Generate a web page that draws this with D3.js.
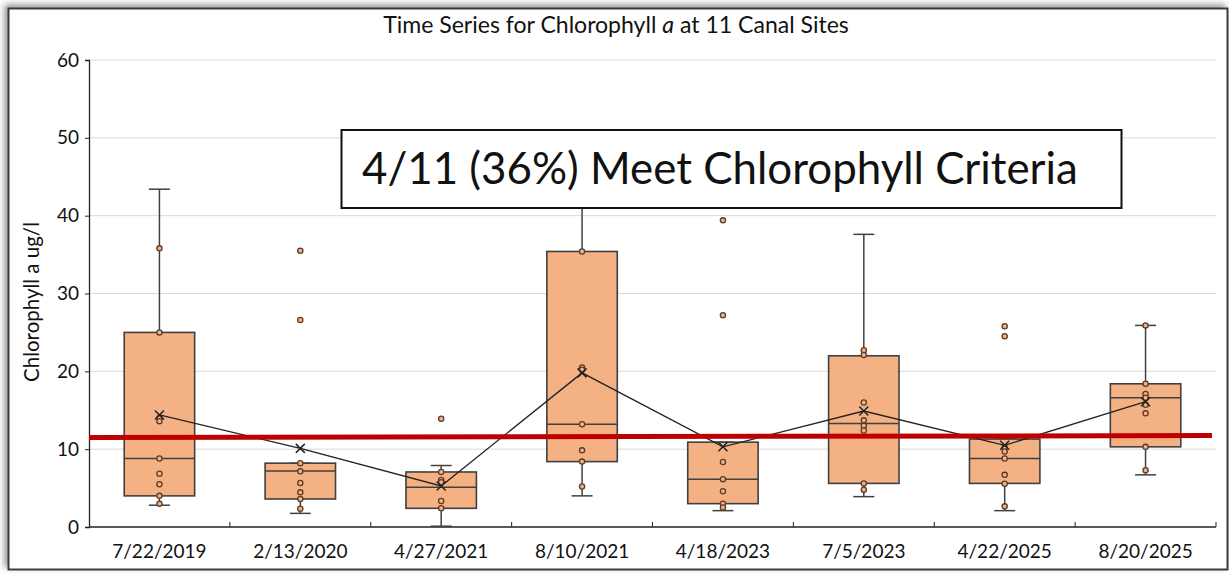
<!DOCTYPE html>
<html>
<head>
<meta charset="utf-8">
<script src="https://cdn.jsdelivr.net/npm/d3@7"></script>
<style>
  body { margin: 0; background: #fff; }
  text { font-family: Lato, "Open Sans", sans-serif; fill: #111; }
</style>
</head>
<body>
<div id="chart"></div>
<script>
// sampling dates (one box per survey)
const dates = ["7/22/2019", "2/13/2020", "4/27/2021", "8/10/2021", "4/18/2023", "7/5/2023", "4/22/2025", "8/20/2025"];

// box statistics (ug/l)
const whiskerLow = [2.8, 1.75, 0.1, 4.0, 2.1, 3.9, 2.1, 6.7];
const q1Vals     = [4.0, 3.6, 2.4, 8.4, 3.0, 5.6, 5.6, 10.3];
const medVals    = [8.8, 7.2, 5.1, 13.2, 6.15, 13.3, 8.8, 16.6];
const q3Vals     = [25.0, 8.2, 7.07, 35.4, 10.9, 22.0, 11.3, 18.4];
const whiskerHigh = [43.4, 8.2, 7.9, 47.0, 10.9, 37.6, 11.3, 25.9];
const meanVals   = [14.4, 10.1, 5.27, 19.8, 10.3, 14.9, 10.5, 16.1];

// individual site values drawn as dots
const sitePoints = [
  [35.8, 25.0, 14.0, 13.6, 8.8, 6.85, 5.5, 4.0, 3.0],
  [35.5, 26.6, 8.2, 7.15, 5.65, 4.45, 3.6, 2.35],
  [13.9, 7.07, 6.04, 5.74, 3.34, 2.4],
  [35.4, 20.5, 20.2, 13.2, 9.85, 8.4, 5.2],
  [39.4, 27.2, 8.35, 6.15, 4.6, 3.0, 2.5],
  [22.7, 22.1, 16.0, 13.7, 13.0, 12.4, 5.6, 4.8],
  [25.8, 24.5, 10.2, 9.7, 8.8, 6.7, 5.55, 2.65],
  [25.9, 18.4, 17.1, 16.6, 15.7, 14.6, 10.3, 7.3]
];

const yTicks = [0, 10, 20, 30, 40, 50, 60];
const criteriaLine = [11.5, 11.75]; // red criteria line, left and right ends

const W = 1229, H = 576;
const margin = {top: 60, right: 13, bottom: 49, left: 89};

const svg = d3.select("#chart").append("svg")
  .attr("width", W)
  .attr("height", H);

// scale a text node so it covers a given width
function fitWidth(sel, size, target) {
  sel.style("font-size", size + "px");
  const w = sel.node().getComputedTextLength();
  sel.style("font-size", (size * target / w) + "px");
}

// frame with shadow
const defs = svg.append("defs");
const f = defs.append("filter").attr("id", "shadow")
  .attr("x", "-5%").attr("y", "-5%").attr("width", "110%").attr("height", "110%");
f.append("feDropShadow").attr("dx", -3).attr("dy", -3).attr("stdDeviation", 3)
  .attr("flood-color", "#777").attr("flood-opacity", 0.8);

svg.append("rect")
  .attr("x", 8.5).attr("y", 8.5)
  .attr("width", W - 10).attr("height", H - 15)
  .attr("fill", "#fff")
  .attr("stroke", "#3a3a3a")
  .attr("stroke-width", 2)
  .attr("filter", "url(#shadow)");

const x = d3.scaleBand()
  .domain(dates)
  .range([margin.left, W - margin.right]);

const y = d3.scaleLinear()
  .domain([0, 60])
  .range([H - margin.bottom, margin.top]);

// gridlines
svg.append("g")
  .selectAll("line")
  .data(yTicks.filter(d => d > 0))
  .join("line")
  .attr("x1", margin.left)
  .attr("x2", W - margin.right)
  .attr("y1", d => y(d))
  .attr("y2", d => y(d))
  .attr("stroke", "#d9d9d9")
  .attr("stroke-width", 1);

// y axis
const yAxis = svg.append("g")
  .attr("transform", "translate(" + margin.left + ",0)")
  .call(d3.axisLeft(y).tickValues(yTicks).tickSize(4).tickPadding(6));
yAxis.select(".domain").attr("stroke", "#222").attr("stroke-width", 1.3);
yAxis.selectAll("line").attr("stroke", "#222");
yAxis.selectAll("text").style("font-size", "19px").attr("fill", "#111");

// x axis: ticks at band edges, pointing up
const xAxis = svg.append("g")
  .attr("transform", "translate(0," + y(0) + ")");
xAxis.append("line")
  .attr("x1", margin.left).attr("x2", W - margin.right)
  .attr("stroke", "#222").attr("stroke-width", 1.3);
xAxis.selectAll(".edge")
  .data(dates.slice(1).concat(["end"]))
  .join("line")
  .attr("class", "edge")
  .attr("x1", (d, i) => i < dates.length - 1 ? x(d) : x.range()[1])
  .attr("x2", (d, i) => i < dates.length - 1 ? x(d) : x.range()[1])
  .attr("y1", 0).attr("y2", -5)
  .attr("stroke", "#222");
xAxis.selectAll(".lbl")
  .data(dates)
  .join("text")
  .attr("class", "lbl")
  .attr("x", d => x(d) + x.bandwidth() / 2)
  .attr("y", 31)
  .attr("text-anchor", "middle")
  .style("font-size", "19px")
  .text(d => d);

// boxes
const boxW = x.bandwidth() * 0.5;
const capW = 21;
const cx = i => x(dates[i]) + x.bandwidth() / 2;

const slice = svg.selectAll(".box")
  .data(dates)
  .join("g")
  .attr("class", "box");

slice.append("line")
  .attr("x1", (d, i) => cx(i)).attr("x2", (d, i) => cx(i))
  .attr("y1", (d, i) => y(whiskerHigh[i])).attr("y2", (d, i) => y(q3Vals[i]))
  .attr("stroke", "#404040").attr("stroke-width", 1.5);
slice.append("line")
  .attr("x1", (d, i) => cx(i)).attr("x2", (d, i) => cx(i))
  .attr("y1", (d, i) => y(q1Vals[i])).attr("y2", (d, i) => y(whiskerLow[i]))
  .attr("stroke", "#404040").attr("stroke-width", 1.5);
slice.append("line")
  .attr("x1", (d, i) => cx(i) - capW / 2).attr("x2", (d, i) => cx(i) + capW / 2)
  .attr("y1", (d, i) => y(whiskerHigh[i])).attr("y2", (d, i) => y(whiskerHigh[i]))
  .attr("stroke", "#404040").attr("stroke-width", 1.5);
slice.append("line")
  .attr("x1", (d, i) => cx(i) - capW / 2).attr("x2", (d, i) => cx(i) + capW / 2)
  .attr("y1", (d, i) => y(whiskerLow[i])).attr("y2", (d, i) => y(whiskerLow[i]))
  .attr("stroke", "#404040").attr("stroke-width", 1.5);

slice.append("rect")
  .attr("x", (d, i) => cx(i) - boxW / 2)
  .attr("width", boxW)
  .attr("y", (d, i) => y(q3Vals[i]))
  .attr("height", (d, i) => y(q1Vals[i]) - y(q3Vals[i]))
  .attr("fill", "#f4b183")
  .attr("stroke", "#404040")
  .attr("stroke-width", 1.6);

slice.append("line")
  .attr("x1", (d, i) => cx(i) - boxW / 2).attr("x2", (d, i) => cx(i) + boxW / 2)
  .attr("y1", (d, i) => y(medVals[i])).attr("y2", (d, i) => y(medVals[i]))
  .attr("stroke", "#404040").attr("stroke-width", 1.5);

// site points
slice.each(function(d, i) {
  d3.select(this).selectAll("circle")
    .data(sitePoints[i])
    .join("circle")
    .attr("cx", cx(i))
    .attr("cy", v => y(v))
    .attr("r", 2.6)
    .attr("fill", "#f4b183")
    .attr("stroke", "#5a3c2a")
    .attr("stroke-width", 1.3);
});

// mean line + markers
const meanLine = d3.line()
  .x((d, i) => cx(i))
  .y(d => y(d));
svg.append("path")
  .datum(meanVals)
  .attr("d", meanLine)
  .attr("fill", "none")
  .attr("stroke", "#222")
  .attr("stroke-width", 1.3);

svg.selectAll(".meanX")
  .data(meanVals)
  .join("path")
  .attr("class", "meanX")
  .attr("d", (d, i) => {
    const px = cx(i), py = y(d), s = 4.5;
    return "M" + (px - s) + "," + (py - s) + "L" + (px + s) + "," + (py + s) +
           "M" + (px - s) + "," + (py + s) + "L" + (px + s) + "," + (py - s);
  })
  .attr("stroke", "#222")
  .attr("stroke-width", 1.5);

// criteria line
svg.append("line")
  .attr("x1", x.range()[0])
  .attr("x2", x.range()[1] - 4)
  .attr("y1", y(criteriaLine[0]))
  .attr("y2", y(criteriaLine[1]))
  .attr("stroke", "#c00000")
  .attr("stroke-width", 5);

// title
const title = svg.append("text")
  .attr("x", 616)
  .attr("y", 33)
  .attr("text-anchor", "middle");
title.append("tspan").text("Time Series for Chlorophyll ");
title.append("tspan").style("font-style", "italic").text("a");
title.append("tspan").text(" at 11 Canal Sites");
fitWidth(title, 17.5, 466);

// y label
const yLab = svg.append("text")
  .attr("transform", "translate(39,302) rotate(-90)")
  .attr("text-anchor", "middle")
  .text("Chlorophyll a ug/l");
fitWidth(yLab, 17.5, 160);

// callout box
svg.append("rect")
  .attr("x", 341.5).attr("y", 130)
  .attr("width", 780).attr("height", 78)
  .attr("fill", "#fff")
  .attr("stroke", "#111")
  .attr("stroke-width", 2);

const callout = svg.append("text")
  .attr("x", 362)
  .attr("y", 184)
  .attr("fill", "#000")
  .text("4/11 (36%) Meet Chlorophyll Criteria");
fitWidth(callout, 37, 716);
</script>
</body>
</html>
